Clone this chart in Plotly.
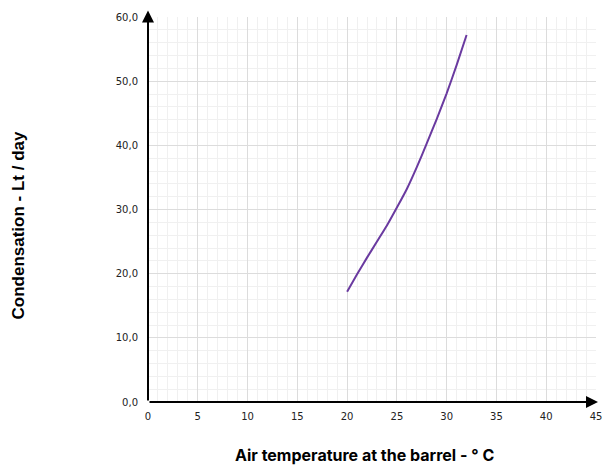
import plotly.graph_objects as go

temps = [20, 21, 22, 23, 24, 25, 26, 27, 28, 29, 30, 31, 32]
condensation = [17.2, 19.9, 22.5, 25.0, 27.5, 30.3, 33.2, 36.6, 40.3, 44.1, 48.1, 52.5, 57.2]

x_title = "Air temperature at the barrel - ° C"
y_title = "Condensation - Lt / day"

fig = go.Figure()
fig.add_trace(go.Scatter(x=temps, y=condensation, mode="lines",
                         line=dict(color="#6a3aa0", width=2, shape="spline", smoothing=0.5),
                         showlegend=False, hoverinfo="skip"))

grid_major = "#dcdcdc"
grid_minor = "#f0f0f0"

fig.update_layout(
    width=603, height=466,
    margin=dict(l=148, r=7, t=17, b=64),
    plot_bgcolor="white", paper_bgcolor="white",
    separators=",.",
    font=dict(family="DejaVu Sans", size=10, color="#222"),
    xaxis=dict(range=[0, 45], dtick=5, tick0=0, showgrid=True, gridcolor=grid_major, gridwidth=1,
               minor=dict(dtick=1, showgrid=True, gridcolor=grid_minor, gridwidth=1),
               zeroline=False, showline=False, ticks="", tickfont=dict(size=10, color="#222"),
               ticklabelstandoff=7, automargin=False, fixedrange=True),
    yaxis=dict(range=[0, 60], dtick=10, tick0=0, showgrid=True, gridcolor=grid_major, gridwidth=1,
               minor=dict(dtick=2, showgrid=True, gridcolor=grid_minor, gridwidth=1),
               zeroline=False, showline=False, ticks="", tickformat=".1f", ticklabelstandoff=9,
               tickfont=dict(size=10, color="#222"), automargin=False, fixedrange=True),
    annotations=[
        dict(x=0, y=61, xref="x", yref="y", ax=0, ay=0, axref="x", ayref="y", showarrow=True,
             arrowhead=2, arrowsize=1.2, arrowwidth=2, arrowcolor="black", text=""),
        dict(x=45.2, y=0, xref="x", yref="y", ax=0, ay=0, axref="x", ayref="y", showarrow=True,
             arrowhead=2, arrowsize=1.2, arrowwidth=2, arrowcolor="black", text=""),
        dict(x=0.5, y=0, xref="paper", yref="paper", xanchor="center", yanchor="middle", yshift=-53, xshift=-8,
             text="<b>" + x_title + "</b>", showarrow=False,
             font=dict(family="Inter", size=16, color="black")),
        dict(x=0, y=0.5, xref="paper", yref="paper", xanchor="center", yanchor="middle", xshift=-130, yshift=-16,
             text="<b>" + y_title + "</b>", textangle=-90, showarrow=False,
             font=dict(family="Liberation Sans", size=17, color="black")),
    ],
)

fig.write_html("out.html")
